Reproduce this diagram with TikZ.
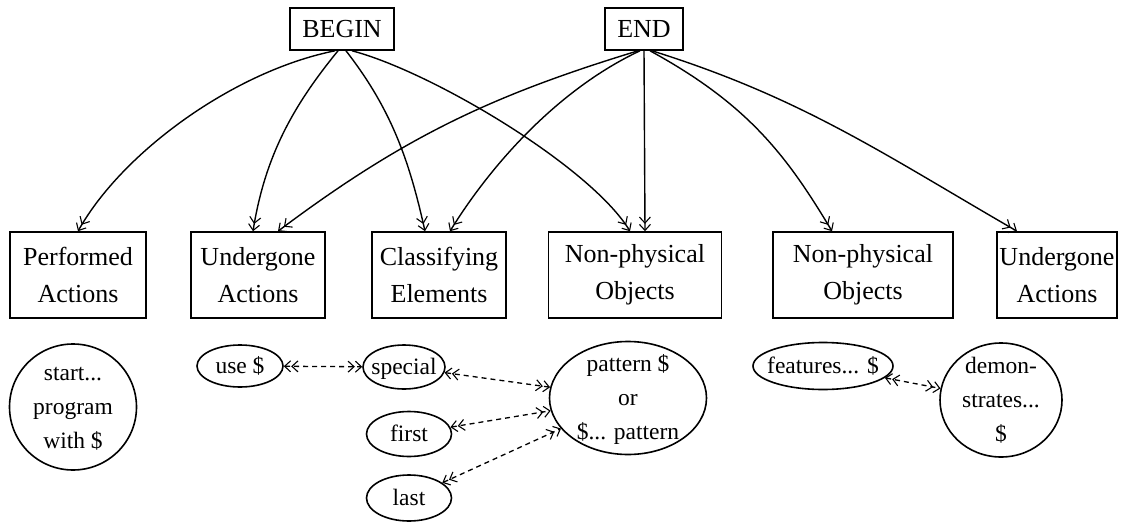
\documentclass[tikz,border=0pt]{standalone}
\usepackage{fontspec}
\setmainfont{Liberation Serif}
\usetikzlibrary{arrows.meta,shapes.geometric}
\newcommand\etxt[1]{\makebox[0pt]{\smash{\raisebox{-0.3em}{\begin{tabular}{@{}c@{}}#1\end{tabular}}}}}
\tikzset{
  dbarb/.tip={Straight Barb[length=6pt,width=11pt,line width=1.1pt] Straight Barb[length=6pt,width=11pt,line width=1.1pt]},
  box/.style={draw, line width=1.6pt, inner sep=0pt, align=center,
    minimum height=86pt, font=\fontsize{26}{37}\selectfont},
  topbox/.style={draw, line width=1.6pt, inner sep=0pt, align=center,
    minimum height=42pt, font=\fontsize{26}{37}\selectfont},
  oval/.style={draw, ellipse, line width=1.6pt, inner sep=0pt,
    font=\fontsize{23.5}{34}\selectfont},
  arr/.style={line width=1.4pt, -{dbarb}},
  darr/.style={line width=1.3pt, dash pattern=on 5pt off 4pt, {dbarb}-{dbarb}}
}
\begin{document}
\begin{tikzpicture}[x=1pt,y=-1pt]
\useasboundingbox (0,0) rectangle (1134,524);
% top nodes
\node[topbox, minimum width=104pt] (begin) at (342,29) {BEGIN};
\node[topbox, minimum width=78pt] (endn) at (644,29) {END};
% boxes
\node[box, minimum width=136pt] (pa)  at (78,275)   {Performed\\Actions};
\node[box, minimum width=134pt] (ua)  at (258,275)  {Undergone\\Actions};
\node[box, minimum width=134pt] (ce)  at (439,275)  {Classifying\\Elements};
\node[box, minimum width=173pt] (np)  at (635,275)  {Non-physical\\Objects};
\node[box, minimum width=180pt] (np2) at (863,275)  {Non-physical\\Objects};
\node[box, minimum width=120pt] (ua2) at (1057,275) {Undergone\\Actions};
% ellipses
\node[oval, minimum width=127pt, minimum height=126pt] (start) at (73,407) {\etxt{start...\\program\\with \$}};
\node[oval, minimum width=86pt, minimum height=42pt] (use) at (240,366) {\etxt{use \$}};
\node[oval, minimum width=82pt, minimum height=44pt] (special) at (404,367) {\etxt{special}};
\node[oval, minimum width=85pt, minimum height=45pt] (first) at (409,434) {\etxt{first}};
\node[oval, minimum width=85pt, minimum height=46pt] (last) at (409,498) {\etxt{last}};
\node[oval, minimum width=157pt, minimum height=113pt] (pattern) at (628,398) {\etxt{pattern \$\\or\\\$... pattern}};
\node[oval, minimum width=140pt, minimum height=47pt] (features) at (823,366) {\etxt{features... \$}};
\node[oval, minimum width=122pt, minimum height=114pt] (demo) at (1001,400) {\etxt{demon-\\strates...\\\$}};
% arrows from BEGIN
\draw[arr] ([xshift=-7pt]begin.south) .. controls +(-100,20) and +(45,-80) .. (pa.north);
\draw[arr] ([xshift=-4pt]begin.south) .. controls +(-45,55) and +(12,-75) .. ([xshift=-5pt]ua.north);
\draw[arr] ([xshift=4pt]begin.south) .. controls +(45,58) and +(-16,-72) .. ([xshift=-14pt]ce.north);
\draw[arr] ([xshift=10pt]begin.south) .. controls +(80,21) and +(-40,-65) .. ([xshift=-5pt]np.north);
% arrows from END
\draw[arr] ([xshift=-6pt]endn.south) .. controls +(-144,44) and +(128,-96) .. ([xshift=20pt]ua.north);
\draw[arr] ([xshift=-4pt]endn.south) .. controls +(-81,38) and +(42,-68) .. ([xshift=11pt]ce.north);
\draw[arr] (endn.south) -- ([xshift=10pt]np.north);
\draw[arr] ([xshift=6pt]endn.south) .. controls +(97,53) and +(-46,-77) .. ([xshift=-31pt]np2.north);
\draw[arr] ([xshift=8pt]endn.south) .. controls +(150,47) and +(-135,-78) .. ([xshift=-40pt]ua2.north);
% dashed links
\draw[darr] (use) -- (special);
\draw[darr] (special) -- (pattern);
\draw[darr] (first) -- (pattern);
\draw[darr] (last) -- (pattern);
\draw[darr] (features) -- (demo);
\end{tikzpicture}
\end{document}
